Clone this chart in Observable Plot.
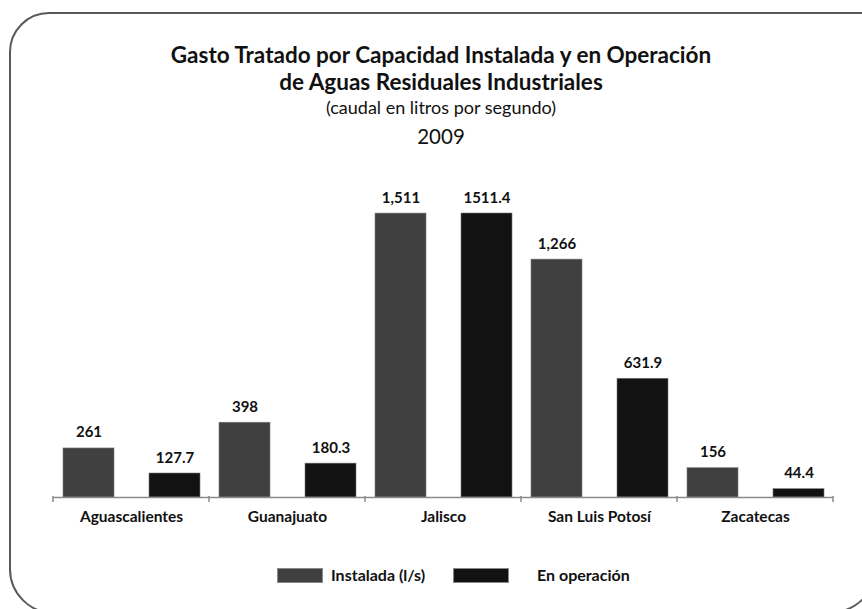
<!DOCTYPE html>
<html>
<head>
<meta charset="utf-8">
<script src="https://cdn.jsdelivr.net/npm/d3@7"></script>
<script src="https://cdn.jsdelivr.net/npm/@observablehq/plot@0.6"></script>
<style>
  html, body { margin: 0; padding: 0; background: #fff; overflow: hidden; }
  body { width: 862px; height: 609px; position: relative; font-family: Lato, "Open Sans", sans-serif; color: #111; }
  #frame { position: absolute; left: 9px; top: 12px; width: 867px; height: 598px; border: 2px solid #5a5a5a;
           border-radius: 40px 0 52px 45px; }
  .t { position: absolute; left: 10px; width: 862px; text-align: center; white-space: nowrap; line-height: 1.2; }
  #title1 { top: 41px; font-size: 22.5px; font-weight: bold; }
  #title2 { top: 68px; font-size: 22.5px; font-weight: bold; }
  #sub { top: 97px; font-size: 18px; }
  #year { top: 124px; font-size: 20.5px; }
  #chart { position: absolute; left: 0; top: 180px; }
  #legend { position: absolute; top: 568px; left: 0; width: 862px; height: 16px; }
  .sw { position: absolute; top: 0; height: 15px; border: 0.5px solid #888; box-sizing: border-box; }
  .lt { position: absolute; top: -2px; font-size: 16px; font-weight: bold; line-height: 18px; }
</style>
</head>
<body>
<div id="frame"></div>
<div class="t" id="title1">Gasto Tratado por Capacidad Instalada y en Operación</div>
<div class="t" id="title2">de Aguas Residuales Industriales</div>
<div class="t" id="sub">(caudal en litros por segundo)</div>
<div class="t" id="year">2009</div>
<div id="chart"></div>
<div id="legend"></div>
<script>
const states = ["Aguascalientes", "Guanajuato", "Jalisco", "San Luis Potosí", "Zacatecas"];
const series = ["Instalada (l/s)", "En operación"];
const instalada = [261, 398, 1511, 1266, 156];
const operacion = [127.7, 180.3, 1511.4, 631.9, 44.4];
const colors = ["#404040", "#121212"];

const fmtInst = d3.format(",");
const fmtOper = d3.format(".1f");

const rows = [];
states.forEach((s, i) => {
  rows.push({state: s, series: series[0], value: instalada[i], label: fmtInst(instalada[i])});
  rows.push({state: s, series: series[1], value: operacion[i], label: fmtOper(operacion[i])});
});

const chart = Plot.plot({
  width: 862,
  height: 360,
  marginLeft: 52,
  marginRight: 29,
  marginTop: 33,
  marginBottom: 43,
  style: {fontFamily: "Lato, 'Open Sans', sans-serif", color: "#111", background: "transparent"},
  fx: {domain: states, padding: 0, label: null, axis: null},
  x: {domain: series, paddingInner: 0.41, paddingOuter: 0.107, axis: null},
  y: {domain: [0, 1511.4], axis: null},
  color: {domain: series, range: colors},
  marks: [
    Plot.barY(rows, {fx: "state", x: "series", y: "value", fill: "series", stroke: "#7a7a7a", strokeWidth: 0.6}),
    Plot.ruleY([0], {stroke: "#8a8a8a", strokeWidth: 1.5}),
    Plot.text(rows, {fx: "state", x: "series", y: "value", text: "label", dy: -11, lineAnchor: "bottom", fontSize: 15, fontWeight: "bold", fill: "#111"}),
    Plot.axisFx({anchor: "bottom", tickSize: 0, tickPadding: 13, fontSize: 15.5, fontWeight: "bold", label: null})
  ]
});
document.getElementById("chart").appendChild(chart);

// boundary ticks between state groups, positioned via the fx scale
const fx = chart.scale("fx");
const y = chart.scale("y");
const svg = d3.select(chart);
const y0 = y.apply(0);
const bounds = [];
fx.domain.forEach(d => bounds.push(fx.apply(d)));
bounds.push(fx.apply(fx.domain[fx.domain.length - 1]) + fx.step);
svg.append("g").selectAll("line").data(bounds).join("line")
  .attr("x1", d => d).attr("x2", d => d)
  .attr("y1", y0 - 1).attr("y2", y0 + 5)
  .attr("stroke", "#8a8a8a").attr("stroke-width", 1.5);

// legend
const legend = d3.select("#legend");
const legItems = [
  {name: series[0], color: colors[0], x: 277, w: 46, tx: 331},
  {name: series[1], color: colors[1], x: 453, w: 56, tx: 537}
];
legItems.forEach(it => {
  legend.append("div").attr("class", "sw").style("left", it.x + "px").style("width", it.w + "px").style("background", it.color);
  legend.append("div").attr("class", "lt").style("left", it.tx + "px").text(it.name);
});
</script>
</body>
</html>
